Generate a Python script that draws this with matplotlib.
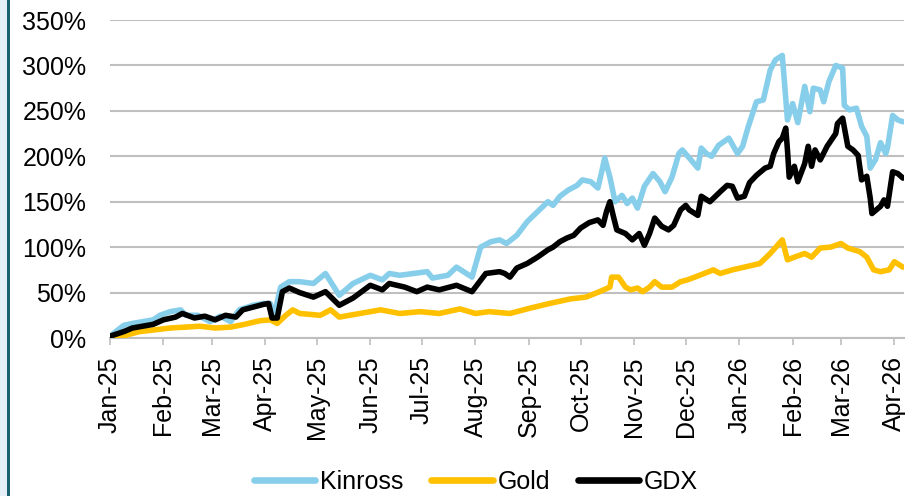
import pandas as pd
import matplotlib
matplotlib.use("Agg")
import matplotlib.pyplot as plt
import matplotlib.dates as mdates
from matplotlib.patches import Rectangle
from matplotlib.ticker import FuncFormatter

plt.rcParams['font.family'] = ['Liberation Sans', 'DejaVu Sans']

# cumulative return in %, x = days since 2025-01-01
kinross_day = [0, 8, 13, 19, 25, 29, 35, 41, 44, 51, 58, 64, 70, 75, 83, 89, 93, 95, 99, 104,
               110, 118, 125, 133, 141, 151, 158, 162, 168, 176, 184, 187, 196, 201, 210, 215,
               221, 226, 230, 236, 242, 248, 254, 257, 261, 266, 271, 274, 279, 283, 285, 287,
               290, 293, 297, 300, 303, 306, 310, 315, 319, 322, 326, 330, 332, 337, 341, 343,
               346, 349, 353, 359, 364, 367, 370, 375, 379, 383, 386, 390, 393, 396, 399, 403,
               406, 408, 412, 414, 417, 421, 425, 426, 429, 433, 436, 439, 441, 444, 447, 450,
               451, 454, 457, 460]
kinross_val = [2, 14, 16, 18, 20, 25, 29, 31, 25, 25, 18, 24, 18, 31, 36, 38, 38, 23, 56, 62,
               62, 60, 71, 47, 60, 69, 64, 71, 69, 71, 73, 66, 69, 78, 67, 100,
               106, 108, 104, 113, 128, 139, 150, 146, 156, 163, 168, 174, 172, 165, 181, 198,
               177, 150, 157, 148, 154, 143, 167, 181, 172, 161, 177, 203, 207, 196, 187, 209,
               203, 200, 212, 220, 203, 211, 231, 260, 262, 295, 306, 311, 240, 258, 237, 277,
               249, 275, 273, 260, 282, 300, 297, 256, 251, 253, 233, 222, 187, 196, 215, 203,
               209, 245, 240, 238]

gold_day = [0, 9, 17, 26, 35, 44, 52, 61, 70, 78, 87, 93, 97, 102, 106, 110, 122, 128, 133,
            145, 157, 168, 180, 191, 203, 212, 220, 232, 244, 255, 267, 276, 284, 290, 291,
            295, 299, 302, 306, 309, 313, 316, 320, 326, 331, 335, 342, 350, 354, 361, 368,
            377, 383, 390, 393, 397, 403, 407, 412, 418, 424, 428, 435, 439, 443, 447, 452,
            455, 460]
gold_val = [0, 3, 7, 9, 11, 12, 13, 11, 12, 15, 19, 20, 16, 25, 31, 27, 25, 31, 23,
            27, 31, 27, 29, 27, 32, 27, 29, 27, 33, 38, 43, 45, 51, 56, 67,
            67, 56, 53, 55, 51, 56, 62, 56, 56, 62, 64, 69, 75, 71, 75, 78,
            82, 93, 108, 86, 89, 93, 89, 99, 100, 104, 99, 95, 89, 75, 73, 75,
            84, 78]

gdx_day = [0, 8, 13, 19, 25, 31, 38, 42, 49, 55, 61, 67, 73, 77, 83, 89, 92, 94, 97, 100,
           104, 110, 118, 125, 133, 141, 151, 158, 162, 171, 178, 184, 191, 201, 210, 218,
           226, 229, 232, 236, 242, 248, 254, 257, 261, 265, 269, 273, 278, 283, 286, 288,
           290, 292, 294, 299, 303, 307, 310, 313, 316, 320, 324, 327, 331, 334, 336, 341,
           343, 348, 354, 358, 361, 364, 368, 371, 375, 380, 383, 385, 388, 390, 392, 393,
           394, 397, 399, 403, 405, 407, 409, 412, 416, 421, 422, 425, 428, 431, 434, 436,
           439, 441, 442, 447, 449, 451, 454, 457, 460]
gdx_val = [2, 7, 11, 13, 15, 20, 23, 27, 22, 24, 20, 25, 23, 31, 34, 37, 38, 22, 22, 51,
           55, 50, 45, 51, 36, 44, 58, 53, 60, 56, 51, 56, 53, 58, 51, 71,
           73, 71, 67, 77, 82, 89, 97, 100, 106, 110, 113, 121, 127, 130, 124, 139,
           150, 134, 119, 115, 108, 115, 102, 115, 132, 123, 119, 124, 141, 146, 141, 135,
           156, 150, 161, 168, 167, 154, 156, 171, 179, 187, 189, 203, 216, 220, 231, 207,
           177, 189, 172, 192, 211, 189, 207, 196, 211, 225, 236, 242, 211, 207, 201, 174,
           178, 154, 137, 145, 152, 145, 183, 181, 176]

base = pd.Timestamp('2025-01-01')
def to_dates(days):
    return base + pd.to_timedelta(days, unit='D')

c_kin = '#87CEEB'
c_gold = '#FFC000'
c_gdx = '#000000'

fig = plt.figure(figsize=(9.2, 4.96), dpi=100)
# left panel border
fig.patches.append(Rectangle((0, 0), 7/920, 1, transform=fig.transFigure,
                             facecolor='#E6EEF8', edgecolor='none', zorder=0))
fig.patches.append(Rectangle((7/920, 0), 3/920, 1, transform=fig.transFigure,
                             facecolor='#1B6070', edgecolor='none', zorder=0))

ax = fig.add_axes([110/920, 1 - 338/496, 794/920, 318/496])

lw = 4.0
ax.plot(to_dates(kinross_day), kinross_val, color=c_kin, lw=lw, label='Kinross',
        solid_capstyle='round', solid_joinstyle='round', zorder=3)
ax.plot(to_dates(gold_day), gold_val, color=c_gold, lw=lw, label='Gold',
        solid_capstyle='round', solid_joinstyle='round', zorder=4)
ax.plot(to_dates(gdx_day), gdx_val, color=c_gdx, lw=lw, label='GDX',
        solid_capstyle='round', solid_joinstyle='round', zorder=5)

ax.set_ylim(0, 350)
ax.set_yticks(range(0, 351, 50))
ax.yaxis.set_major_formatter(FuncFormatter(lambda v, p: f'{v:.0f}%'))
ax.set_xlim(base, base + pd.Timedelta(days=460.6))
ax.xaxis.set_major_locator(mdates.MonthLocator())
ax.xaxis.set_major_formatter(mdates.DateFormatter('%b-%y'))

ax.grid(axis='y', color='#BFBFBF', lw=1.5, zorder=1)
ax.set_axisbelow(True)
for s in ['top', 'right', 'left']:
    ax.spines[s].set_visible(False)
ax.spines['bottom'].set_color('#BFBFBF')
ax.spines['bottom'].set_linewidth(1.5)

ax.tick_params(axis='y', length=0, pad=17, labelsize=18)
ax.tick_params(axis='x', length=5, width=1.2, color='#BFBFBF', pad=8, labelsize=18,
               labelrotation=90)

leg = fig.legend(loc='center', bbox_to_anchor=(476/920, 1 - 482/496), ncol=3,
                 frameon=False, fontsize=18, handlelength=2.45, handletextpad=0.2,
                 columnspacing=1.1, borderpad=0)
for h in leg.get_lines():
    h.set_linewidth(4.8)
    h.set_solid_capstyle('round')

fig.savefig('out.png', dpi=100)
